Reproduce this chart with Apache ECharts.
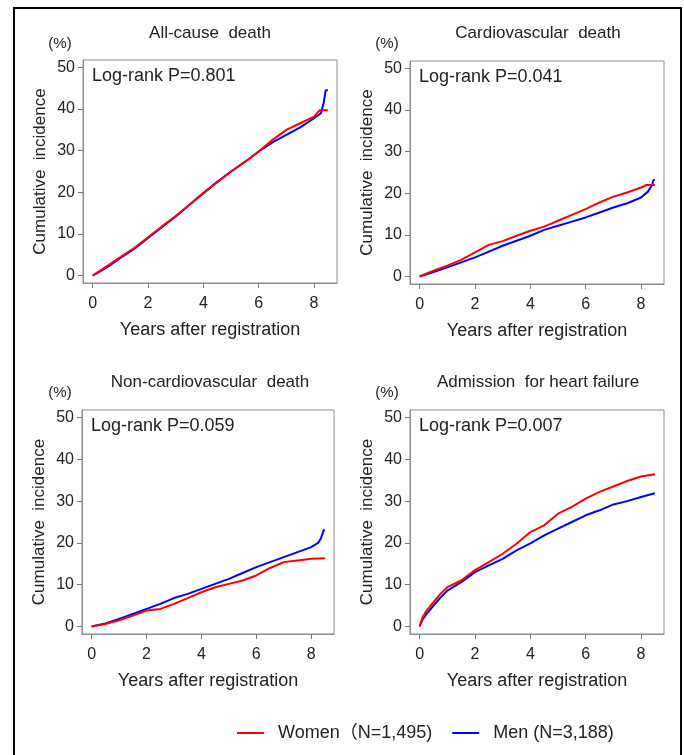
<!DOCTYPE html>
<html>
<head>
<meta charset="utf-8">
<script src="https://cdn.jsdelivr.net/npm/echarts@6/dist/echarts.min.js"></script>
<style>
  html, body { margin: 0; padding: 0; background: #fff; }
  #main { width: 684px; height: 755px; }
</style>
</head>
<body>
<div id="main"></div>
<script>
// series names
var womenName = 'Women（N=1,495)';
var menName = 'Men (N=3,188)';

// [years, cumulative incidence %]
var allCauseWomen = [[0,0],[0.5,2.2],[1,4.4],[1.5,6.6],[2,9.2],[2.5,11.8],[3,14.3],[3.5,17],[4,19.8],[4.5,22.4],[5,25],[5.5,27.3],[6,29.8],[6.5,32.6],[7,35],[7.5,36.6],[8,38.2],[8.2,39.7],[8.5,39.7]];
var allCauseMen = [[0,0],[0.5,1.9],[1,4.2],[1.5,6.4],[2,9],[2.5,11.6],[3,14.2],[3.5,17],[4,19.8],[4.5,22.5],[5,25],[5.5,27.3],[6,29.8],[6.5,32],[7,33.8],[7.5,35.6],[8,37.8],[8.25,39],[8.35,41.5],[8.42,44.5],[8.5,44.5]];

var cvWomen = [[0,0],[0.5,1.4],[1,2.6],[1.5,4],[2,5.8],[2.5,7.6],[3,8.5],[3.5,9.8],[4,11],[4.5,12],[5,13.4],[5.5,14.8],[6,16.2],[6.5,17.8],[7,19.2],[7.5,20.2],[8,21.4],[8.2,22],[8.5,22]];
var cvMen = [[0,0],[0.5,1.1],[1,2.2],[1.5,3.4],[2,4.6],[2.5,6],[3,7.4],[3.5,8.6],[4,9.8],[4.5,11.2],[5,12.2],[5.5,13.2],[6,14.2],[6.5,15.4],[7,16.6],[7.5,17.6],[8,19],[8.25,20.4],[8.4,22],[8.45,23.2],[8.5,23.2]];

var nonCvWomen = [[0,0],[0.5,0.6],[1,1.5],[1.5,2.6],[2,3.8],[2.5,4.2],[3,5.4],[3.5,6.8],[4,8.2],[4.5,9.4],[5,10.2],[5.5,11],[6,12.2],[6.5,14],[7,15.4],[7.5,15.8],[8,16.2],[8.5,16.3]];
var nonCvMen = [[0,0],[0.5,0.7],[1,1.8],[1.5,3],[2,4.2],[2.5,5.4],[3,6.8],[3.5,7.8],[4,9],[4.5,10.2],[5,11.4],[5.5,12.8],[6,14.2],[6.5,15.4],[7,16.6],[7.5,17.8],[8,19],[8.25,20],[8.35,21],[8.45,23],[8.5,23]];

var hfWomen = [[0,0],[0.1,2.2],[0.25,3.8],[0.5,5.8],[0.75,7.8],[1,9.4],[1.5,11],[2,13.5],[2.5,15.4],[3,17.4],[3.5,19.8],[4,22.6],[4.5,24.2],[5,27],[5.5,28.6],[6,30.6],[6.5,32.2],[7,33.5],[7.5,34.8],[8,35.9],[8.5,36.4]];
var hfMen = [[0,0],[0.1,1.6],[0.25,3],[0.5,5],[0.75,6.9],[1,8.6],[1.5,10.6],[2,13],[2.5,14.6],[3,16.2],[3.5,18.2],[4,19.9],[4.5,21.8],[5,23.4],[5.5,25],[6,26.6],[6.5,27.8],[7,29.2],[7.5,30],[8,31],[8.5,31.9]];

var xTicks = [0, 2, 4, 6, 8];
var yTicks = [0, 10, 20, 30, 40, 50];

var titles = ['All-cause  death', 'Cardiovascular  death', 'Non-cardiovascular  death', 'Admission  for heart failure'];
var pValues = ['Log-rank P=0.801', 'Log-rank P=0.041', 'Log-rank P=0.059', 'Log-rank P=0.007'];
var womenData = [allCauseWomen, cvWomen, nonCvWomen, hfWomen];
var menData = [allCauseMen, cvMen, nonCvMen, hfMen];

var FONT = '"Liberation Sans", Arial, "Noto Sans CJK SC", sans-serif';
var TXT = '#222';
var AXC = '#8c8c8c';

// layout of each panel box
var boxes = [
    { left: 83, top: 60, width: 254, height: 223, titleX: 210, titleY: 33, pctX: 60, pctY: 44 },
    { left: 410, top: 61, width: 254, height: 223, titleX: 538, titleY: 33, pctX: 387, pctY: 44 },
    { left: 82, top: 410, width: 252, height: 224, titleX: 210, titleY: 382, pctX: 60, pctY: 393 },
    { left: 410, top: 410, width: 254, height: 224, titleX: 538, titleY: 382, pctX: 387, pctY: 393 }
];

var grid = [], xAxis = [], yAxis = [], series = [], texts = [];

for (var i = 0; i < 4; i++) {
    var b = boxes[i];
    grid.push({
        left: b.left, top: b.top, width: b.width, height: b.height,
        show: true, borderColor: AXC, borderWidth: 1, backgroundColor: '#fff'
    });
    xAxis.push({
        type: 'value', gridIndex: i, min: -0.35, max: 8.83,
        axisLine: { show: true, onZero: false, lineStyle: { color: AXC } },
        axisTick: { show: true, inside: false, length: 5, customValues: xTicks, lineStyle: { color: '#777' } },
        axisLabel: { customValues: xTicks, margin: 13, fontSize: 16, color: TXT, fontFamily: FONT },
        splitLine: { show: false },
        name: 'Years after registration', nameLocation: 'middle', nameGap: 38,
        nameTextStyle: { fontSize: 18, color: TXT, fontFamily: FONT }
    });
    yAxis.push({
        type: 'value', gridIndex: i, min: -1.8, max: 51.8,
        axisLine: { show: true, onZero: false, lineStyle: { color: AXC } },
        axisTick: { show: true, inside: false, length: 5, customValues: yTicks, lineStyle: { color: '#777' } },
        axisLabel: { customValues: yTicks, margin: 8, fontSize: 16, color: TXT, fontFamily: FONT },
        splitLine: { show: false },
        name: 'Cumulative  incidence', nameLocation: 'middle', nameGap: 34,
        nameTextStyle: { fontSize: 17, color: TXT, fontFamily: FONT }
    });
    series.push({
        name: menName, type: 'line', xAxisIndex: i, yAxisIndex: i,
        data: menData[i], showSymbol: false, symbol: 'none',
        lineStyle: { color: '#0000ff', width: 2 }, itemStyle: { color: '#0000ff' }
    });
    series.push({
        name: womenName, type: 'line', xAxisIndex: i, yAxisIndex: i,
        data: womenData[i], showSymbol: false, symbol: 'none',
        lineStyle: { color: '#ff0000', width: 2 }, itemStyle: { color: '#ff0000' }
    });
    texts.push({ type: 'text', x: b.titleX, y: b.titleY, style: { text: titles[i], font: '17px ' + FONT, fill: TXT, align: 'center', verticalAlign: 'middle' } });
    texts.push({ type: 'text', x: b.pctX, y: b.pctY, style: { text: '(%)', font: '15px ' + FONT, fill: TXT, align: 'center', verticalAlign: 'middle' } });
    texts.push({ type: 'text', x: b.left + 9, y: b.top + 16, style: { text: pValues[i], font: '18px ' + FONT, fill: TXT, align: 'left', verticalAlign: 'middle' } });
}

// outer frame
texts.push({
    type: 'rect', shape: { x: 14, y: 8, width: 667, height: 760 },
    style: { fill: 'none', stroke: '#000', lineWidth: 2 }, z: 100
});

var chart = echarts.init(document.getElementById('main'));
chart.setOption({
    backgroundColor: '#fff',
    animation: false,
    textStyle: { fontFamily: FONT },
    grid: grid,
    xAxis: xAxis,
    yAxis: yAxis,
    series: series,
    legend: {
        data: [
            { name: womenName, itemStyle: { color: '#ff0000' } },
            { name: menName, itemStyle: { color: '#0000ff' } }
        ],
        left: 237, top: 724, padding: 0,
        icon: 'rect', itemWidth: 27, itemHeight: 2, itemGap: 20,
        textStyle: { fontSize: 18, color: TXT, fontFamily: FONT, padding: [0, 0, 0, 9] }
    },
    graphic: texts
});
</script>
</body>
</html>
